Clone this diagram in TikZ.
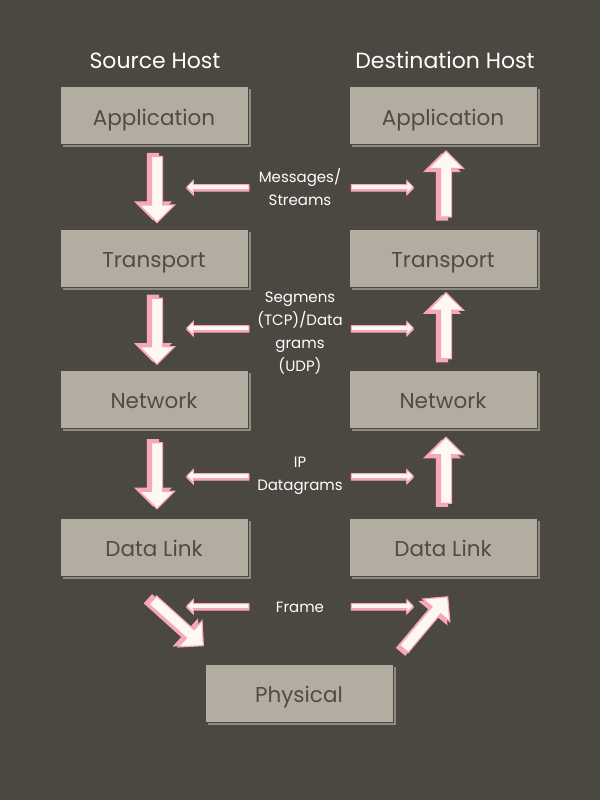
\documentclass[tikz,border=0pt]{standalone}
\usepackage{fontspec}
\setmainfont{Poppins}
\usetikzlibrary{shapes.arrows,shadows,calc}
\definecolor{bg}{HTML}{4B4741}
\definecolor{boxfill}{HTML}{B3ADA1}
\definecolor{boxshadow}{HTML}{8F8A82}
\definecolor{boxtext}{HTML}{4F4B45}
\definecolor{pinkc}{HTML}{F7A8B6}
\definecolor{creamc}{HTML}{FDF9F0}
\tikzset{
  box/.style={minimum width=188pt, minimum height=58pt, inner sep=0pt,
    fill=boxfill, draw=bg, line width=0.6pt, text=boxtext,
    font=\fontsize{21.5}{24}\selectfont, text height=21pt, text depth=2pt,
    general shadow={fill=boxshadow, shadow xshift=2.5pt, shadow yshift=-2.5pt}},
  head/.style={text=white, font=\fontsize{22}{24}\selectfont, inner sep=0pt,
    text height=16pt, text depth=0pt},
  lbl/.style={text=white, font=\fontsize{15}{23}\selectfont, align=center, inner sep=0pt},
  fatarr/.style={single arrow, inner sep=5pt, single arrow head extend=12pt,
    line width=1.2pt, draw=pinkc, fill=creamc},
  fatsh/.style={single arrow, inner sep=5pt, single arrow head extend=12pt,
    line width=1.2pt, draw=pinkc, fill=pinkc},
  thinarr/.style={single arrow, inner sep=2pt, single arrow head extend=4pt,
    line width=1pt, draw=pinkc, fill=creamc, minimum height=62pt},
  thinsh/.style={single arrow, inner sep=2pt, single arrow head extend=4pt,
    line width=1pt, draw=pinkc, fill=pinkc, minimum height=62pt},
}
% name, position, rotation, length, shadow offset
\newcommand\fatarrow[5]{%
  \node[fatsh, rotate=#3, minimum height=#4] at ($#2+#5$) {};
  \node[fatarr, rotate=#3, minimum height=#4] (#1) at #2 {};}
\newcommand\thinarrow[3]{%
  \node[thinsh, rotate=#3] at ($#2+(0,1.5)$) {};
  \node[thinarr, rotate=#3] (#1) at #2 {};}
\begin{document}
\begin{tikzpicture}[x=1pt,y=-1pt]
\fill[bg] (0,0) rectangle (600,800);
\useasboundingbox (0,0) rectangle (600,800);

\node[head] (src) at (155,60) {Source Host};
\node[head] (dst) at (445,60) {Destination Host};

\node[box] (sapp) at (154,115.5) {Application};
\node[box] (str)  at (154,258) {Transport};
\node[box] (snet) at (154,399) {Network};
\node[box] (sdl)  at (154,547) {Data Link};
\node[box] (dapp) at (443,115.5) {Application};
\node[box] (dtr)  at (443,258) {Transport};
\node[box] (dnet) at (443,399) {Network};
\node[box] (ddl)  at (443,547) {Data Link};
\node[box] (phys) at (299,693) {Physical};

% vertical fat arrows, source side (down)
\fatarrow{a1}{($(sapp.south)!0.5!(str.north)+(3,0)$)}{-90}{66pt}{(-4,-3)}
\fatarrow{a2}{($(str.south)!0.5!(snet.north)+(3,0)$)}{-90}{66pt}{(-4,-3)}
\fatarrow{a3}{($(snet.south)!0.5!(sdl.north)+(3,0)$)}{-90}{66pt}{(-4,-3)}
% destination side (up)
\fatarrow{b1}{($(dtr.north)!0.5!(dapp.south)+(3,0)$)}{90}{66pt}{(-4,3)}
\fatarrow{b2}{($(dnet.north)!0.5!(dtr.south)+(3,0)$)}{90}{66pt}{(-4,3)}
\fatarrow{b3}{($(ddl.north)!0.5!(dnet.south)+(3,0)$)}{90}{66pt}{(-4,3)}
% diagonal arrows
\fatarrow{c1}{(176,621)}{-42}{68pt}{(-4.5,-1)}
\fatarrow{c2}{(424,625)}{50}{68pt}{(-3,2.5)}

% horizontal thin arrows
\thinarrow{h1l}{(219,187)}{180}
\thinarrow{h1r}{(381,187)}{0}
\thinarrow{h2l}{(219,328)}{180}
\thinarrow{h2r}{(381,328)}{0}
\thinarrow{h3l}{(219,476)}{180}
\thinarrow{h3r}{(381,476)}{0}
\thinarrow{h4l}{(219,606)}{180}
\thinarrow{h4r}{(381,606)}{0}

\node[lbl] (l1) at (300,187) {Messages/\\Streams};
\node[lbl] (l2) at (300,333) {Segmens\\(TCP)/Data\\grams\\(UDP)};
\node[lbl] (l3) at (300,476) {IP\\Datagrams};
\node[lbl] (l4) at (300,607) {Frame};
\end{tikzpicture}
\end{document}
